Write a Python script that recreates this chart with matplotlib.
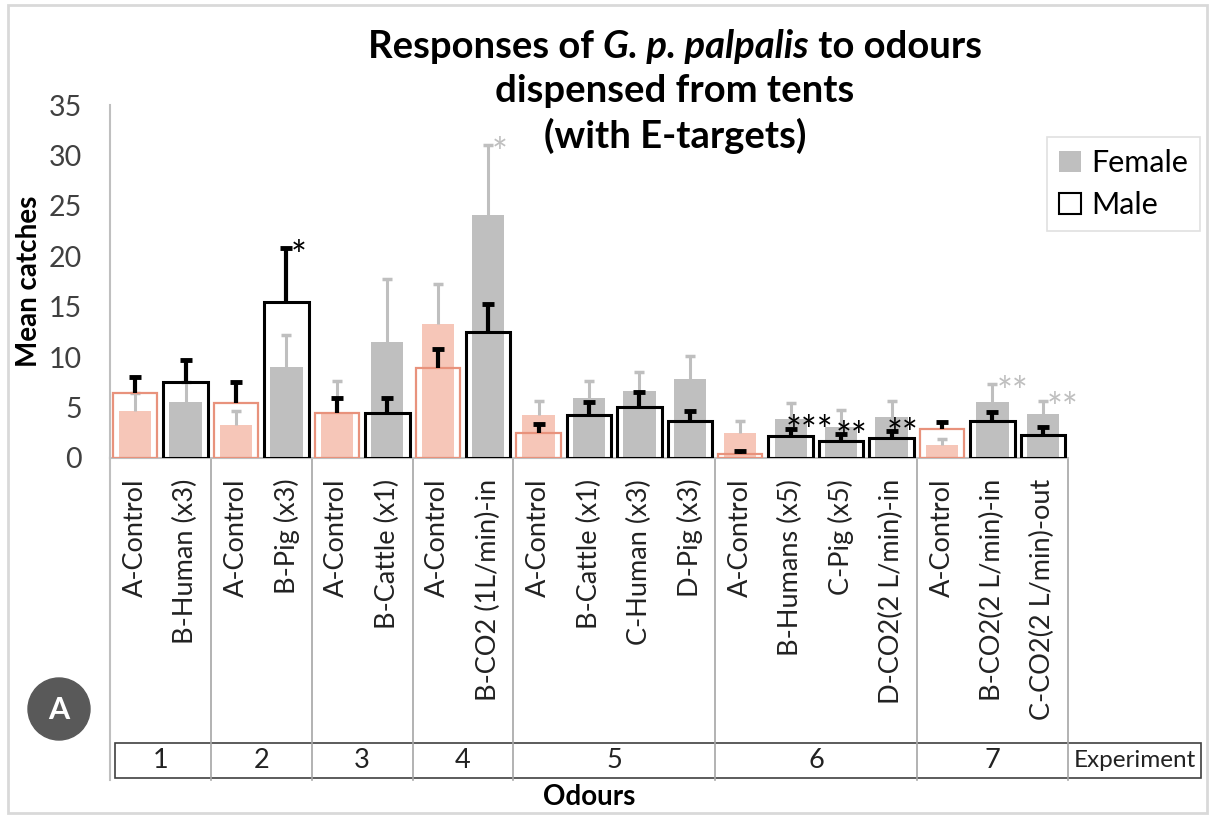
import matplotlib
matplotlib.use("Agg")
import matplotlib.pyplot as plt
import numpy as np
from matplotlib.patches import Patch, Rectangle, Ellipse
from matplotlib.transforms import offset_copy

# chart values
labels = ["A-Control", "B-Human (x3)", "A-Control", "B-Pig (x3)", "A-Control",
          "B-Cattle (x1)", "A-Control", "B-CO2 (1L/min)-in", "A-Control",
          "B-Cattle (x1)", "C-Human (x3)", "D-Pig (x3)", "A-Control",
          "B-Humans (x5)", "C-Pig (x5)", "D-CO2(2 L/min)-in", "A-Control",
          "B-CO2(2 L/min)-in", "C-CO2(2 L/min)-out"]
experiment = [1, 1, 2, 2, 3, 3, 4, 4, 5, 5, 5, 5, 6, 6, 6, 6, 7, 7, 7]
female = [4.7, 5.55, 3.25, 9.0, 4.6, 11.55, 13.3, 24.1, 4.25, 5.9, 6.6, 7.85,
          2.5, 3.9, 3.05, 4.05, 1.3, 5.6, 4.35]
female_err = [1.7, 2.0, 1.45, 3.2, 3.05, 6.2, 4.0, 6.9, 1.4, 1.7, 1.9, 2.3,
              1.2, 1.6, 1.7, 1.65, 0.6, 1.7, 1.35]
male = [6.4, 7.55, 5.5, 15.5, 4.45, 4.45, 8.9, 12.5, 2.5, 4.3, 5.1, 3.65,
        0.35, 2.15, 1.7, 2.0, 2.9, 3.65, 2.25]
male_err = [1.65, 2.2, 2.0, 5.3, 1.45, 1.45, 1.95, 2.75, 0.9, 1.25, 1.4, 1.05,
            0.3, 0.75, 0.65, 0.65, 0.65, 0.9, 0.8]
# significance marks: (bar index, stars, series)
sig_marks = [(3, "*", "male"), (7, "*", "female"), (13, "***", "male"),
             (14, "**", "male"), (15, "**", "male"), (17, "**", "female"),
             (18, "**", "female")]

FONT = "Lato"
plt.rcParams["font.family"] = [FONT, "DejaVu Sans"]

W, H = 1214, 816
fig = plt.figure(figsize=(W / 100, H / 100), dpi=100)

def fx(px):
    return px / W

def fy(py):
    return 1 - py / H

# axes: x from 110 to 1068 px, y=0 at 458 px, y=35 at 105 px
ax = fig.add_axes([fx(110), fy(458), fx(1068) - fx(110), (458 - 105) / H])
n = len(labels)
x = np.arange(n)
is_ctrl = np.array([lab == "A-Control" for lab in labels])

fem_col = np.where(is_ctrl, "#f6c6b8", "#bfbfbf")
male_col = np.where(is_ctrl, "#e8927c", "black")

ax.bar(x, female, width=0.64, color=fem_col, zorder=1)
ax.vlines(x, female, np.array(female) + np.array(female_err), color="#bfbfbf",
          lw=2.2, zorder=2)
ax.plot(x, np.array(female) + np.array(female_err), ls="none", marker="_",
        ms=7, mew=2.5, color="#bfbfbf", zorder=2)

for i in range(n):
    ax.bar(x[i], male[i], width=0.88, facecolor="none",
           edgecolor=male_col[i], lw=1.6 if is_ctrl[i] else 2.2, zorder=3)
ax.vlines(x, male, np.array(male) + np.array(male_err), color="black",
          lw=3, zorder=4)
ax.plot(x, np.array(male) + np.array(male_err), ls="none", marker="_",
        ms=8, mew=3.5, color="black", zorder=4)

star_size = 27
for idx, stars, series in sig_marks:
    if series == "male":
        top = male[idx] + male_err[idx]
        col = "black"
    else:
        top = female[idx] + female_err[idx]
        col = "#bfbfbf"
    if len(stars) > 1 and series == "male":
        xx, yy = idx - 0.1, top + 0.5
    else:
        xx, yy = idx + 0.08, top
    # baseline shifted so the raised asterisk glyph is centred on yy
    tr = offset_copy(ax.transData, fig=fig, x=0, y=-0.55 * star_size,
                     units="points")
    ax.text(xx, yy, stars, ha="left", va="baseline", fontsize=star_size,
            color=col, zorder=5, transform=tr)

ax.set_xlim(-0.5, n - 0.5)
ax.set_ylim(0, 35)
ax.set_yticks(np.arange(0, 36, 5))
ax.tick_params(axis="y", length=0, labelsize=20.5, pad=20, colors="#404040")
ax.set_xticks(x)
ax.set_xticklabels(labels, rotation=90, fontsize=19.5, color="#222222")
ax.tick_params(axis="x", length=0, pad=15)
for s in ["top", "right"]:
    ax.spines[s].set_visible(False)
for s in ["left", "bottom"]:
    ax.spines[s].set_color("#bfbfbf")
    ax.spines[s].set_linewidth(1.5)
ax.set_ylabel("Mean catches", fontsize=20, fontweight="bold")
ax.yaxis.set_label_coords(-0.071, 0.50)

# multi-level category axis: separators and experiment row
trans = ax.get_xaxis_transform()
bounds = [-0.5]
for i in range(1, n):
    if experiment[i] != experiment[i - 1]:
        bounds.append(i - 0.5)
bounds.append(n - 0.5)
y_low = (458 - 780) / (458 - 105)
for b in bounds[1:]:
    ax.plot([b, b], [0, y_low], transform=trans, color="#a6a6a6", lw=1.2,
            clip_on=False)
ax.plot([-0.5, -0.5], [0, y_low], transform=trans, color="#bfbfbf", lw=1.5,
        clip_on=False)
row_top = (458 - 743) / (458 - 105)
row_bot = (458 - 778) / (458 - 105)
exp_right = n - 0.5 + 133 / 50.4
tab_left = -0.5 + 5 / 50.4
ax.add_patch(Rectangle((tab_left, row_bot), exp_right - tab_left,
                       row_top - row_bot, transform=trans, fill=False,
                       edgecolor="#404040", lw=1.2, clip_on=False))
groups = sorted(set(experiment))
for g, (b0, b1) in zip(groups, zip(bounds[:-1], bounds[1:])):
    ax.text((b0 + b1) / 2, (row_top + row_bot) / 2, str(g), transform=trans,
            ha="center", va="center", fontsize=19.5, color="#222222")
ax.text((n - 0.5 + exp_right) / 2, (row_top + row_bot) / 2, "Experiment",
        transform=trans, ha="center", va="center", fontsize=17.5,
        color="#222222")
fig.text(fx(589), fy(797), "Odours", ha="center", va="center", fontsize=20,
         fontweight="bold")

# title with italic species name
renderer = fig.canvas.get_renderer()
pieces = [("Responses of ", "normal"), ("G. p. palpalis", "italic"),
          (" to odours", "normal")]
tsize = 27.5
texts = []
for s, st in pieces:
    t = fig.text(0, fy(47), s, fontsize=tsize, fontweight="bold", style=st,
                 ha="left", va="center")
    texts.append(t)
widths = [t.get_window_extent(renderer).width for t in texts]
x0 = 675 - sum(widths) / 2
for t, w in zip(texts, widths):
    t.set_x(fx(x0))
    x0 += w
fig.text(fx(675), fy(91), "dispensed from tents", fontsize=tsize,
         fontweight="bold", ha="center", va="center")
fig.text(fx(675), fy(136), "(with E-targets)", fontsize=tsize,
         fontweight="bold", ha="center", va="center")

# legend
handles = [Patch(facecolor="#bfbfbf", edgecolor="none", label="Female"),
           Patch(facecolor="white", edgecolor="black", lw=1.5, label="Male")]
leg = fig.legend(handles=handles, loc="upper left",
                 bbox_to_anchor=(fx(1047), fy(137)), fontsize=22,
                 frameon=True, fancybox=False, edgecolor="#d9d9d9",
                 handlelength=0.7, handleheight=0.7, handletextpad=0.35,
                 labelspacing=0.45, borderpad=0.4, borderaxespad=0)
leg.get_frame().set_linewidth(1.2)

# outer chart frame and panel badge
fig.patches.append(Rectangle((fx(8), fy(813)), fx(1207) - fx(8),
                             fy(5) - fy(813), transform=fig.transFigure,
                             fill=False, edgecolor="#d9d9d9", lw=2))
fig.patches.append(Ellipse((fx(59), fy(709)), 62 / W, 62 / H,
                           transform=fig.transFigure, color="#595959"))
fig.text(fx(59), fy(710), "A", ha="center", va="center", fontsize=22,
         fontweight="bold", color="white")

fig.savefig("out.png", dpi=100)
